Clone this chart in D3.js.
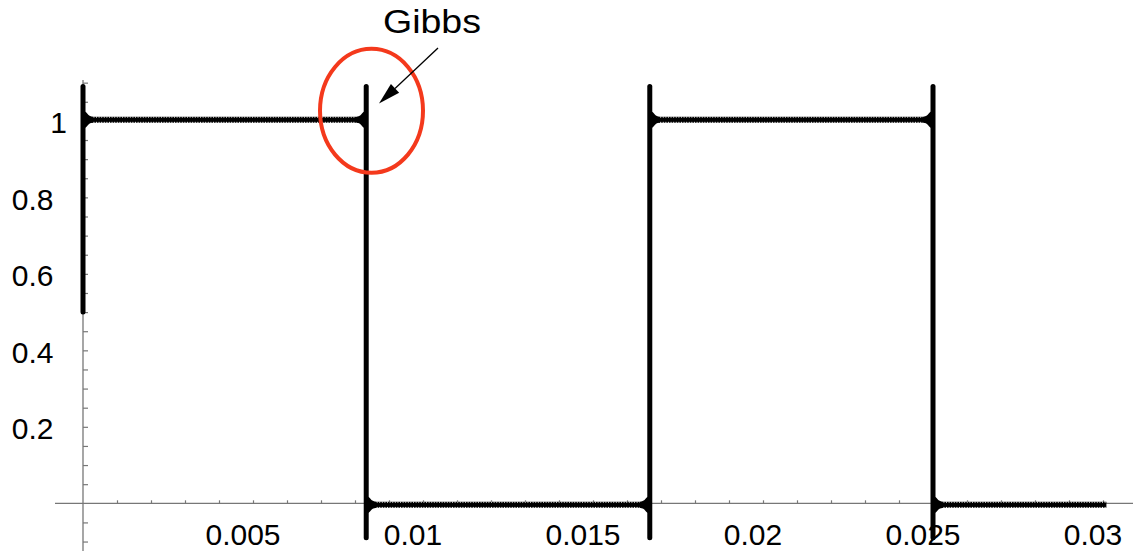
<!DOCTYPE html>
<html><head><meta charset="utf-8">
<script src="https://cdn.jsdelivr.net/npm/d3@7"></script>
<style>html,body{margin:0;padding:0;background:#fff;overflow:hidden}</style>
</head><body>
<svg id="chart" width="1133" height="551"></svg>
<script>
// ---------- data ----------
// vertical jumps of the plotted square wave (time in s)
const jumpTime  = [0, 0.00833, 0.01667, 0.025];
const jumpFrom  = [0.5, 1.09, -0.09, 1.09];
const jumpTo    = [1.09, -0.09, 1.09, -0.09];
// flat parts (plateaus) between the jumps
const plateauStart = [0, 0.00833, 0.01667, 0.025];
const plateauEnd   = [0.00833, 0.01667, 0.025, 0.0301];
const plateauLevel = [1.003, -0.004, 1.003, -0.004];
// Gibbs ripple envelope next to a jump: distance from the jump (s) and half height
const rippleDist = [0, 0.00008, 0.00018, 0.0003];
const rippleHalf = [0.024, 0.02, 0.011, 0.0075];
// axis ticks and labels
const xMinorTicks = [0.001,0.002,0.003,0.004,0.005,0.006,0.007,0.008,0.009,0.010,
                     0.011,0.012,0.013,0.014,0.015,0.016,0.017,0.018,0.019,0.020,
                     0.021,0.022,0.023,0.024,0.025,0.026,0.027,0.028,0.029,0.030];
const xLabelValues = [0.005, 0.01, 0.015, 0.02, 0.025, 0.03];
const xLabelText   = ["0.005", "0.01", "0.015", "0.02", "0.025", "0.03"];
const yMinorTicks = [-0.1,-0.05,0.05,0.1,0.15,0.2,0.25,0.3,0.35,0.4,0.45,0.5,0.55,
                     0.6,0.65,0.7,0.75,0.8,0.85,0.9,0.95,1.0,1.05,1.1];
const yLabelValues = [0.2, 0.4, 0.6, 0.8, 1];
const yLabelText   = ["0.2", "0.4", "0.6", "0.8", "1"];
const annotationText = "Gibbs";

// ---------- drawing ----------
const svg = d3.select("#chart");
const x = d3.scaleLinear().domain([0, 0.03]).range([83, 1103]);
const y = d3.scaleLinear().domain([0, 1]).range([503.3, 120.9]);
const axisColor = "#777";
const font = "'Liberation Sans', Arial, Helvetica, sans-serif";

// axes lines
svg.append("line").attr("x1", 55).attr("x2", 1133).attr("y1", y(0)).attr("y2", y(0))
  .attr("stroke", axisColor).attr("stroke-width", 1.3);
svg.append("line").attr("x1", x(0)).attr("x2", x(0)).attr("y1", 80).attr("y2", 551)
  .attr("stroke", axisColor).attr("stroke-width", 1.3);

// x axis (ticks pointing up)
const xAxis = d3.axisTop(x).tickValues(xMinorTicks).tickSize(3).tickFormat("");
const gx = svg.append("g").attr("transform", `translate(0,${y(0)})`).call(xAxis);
gx.select(".domain").remove();
gx.selectAll(".tick line").attr("stroke", axisColor).attr("stroke-width", 1.2);
svg.append("g").selectAll("text").data(xLabelValues).join("text")
  .attr("x", d => x(d) - 10).attr("y", y(0) + 41.7)
  .attr("text-anchor", "middle").attr("font-family", font).attr("font-size", 30)
  .attr("fill", "#000").text((d, i) => xLabelText[i]);

// y axis (ticks pointing right)
const yAxis = d3.axisRight(y).tickValues(yMinorTicks).tickSize(5).tickFormat("");
const gy = svg.append("g").attr("transform", `translate(${x(0)},0)`).call(yAxis);
gy.select(".domain").remove();
gy.selectAll(".tick line").attr("stroke", axisColor).attr("stroke-width", 1.2);
svg.append("g").selectAll("text").data(yLabelValues).join("text")
  .attr("x", (d, i) => yLabelText[i].includes(".") ? 53.5 : 67)
  .attr("y", d => y(d) + 12.5)
  .attr("text-anchor", "end").attr("font-family", font).attr("font-size", 30)
  .attr("fill", "#000").text((d, i) => yLabelText[i]);

// trace
const trace = svg.append("g");
const line = d3.line().x(d => x(d[0])).y(d => y(d[1]));
plateauStart.forEach((s, i) => {
  const p = line([[s, plateauLevel[i]], [plateauEnd[i], plateauLevel[i]]]);
  trace.append("path").attr("d", p)
    .attr("stroke", "#000").attr("stroke-width", 6).attr("fill", "none");
  // fine ripple texture along both edges of the band
  [-2.6, 2.6].forEach(off => {
    trace.append("path").attr("d", p).attr("transform", `translate(0,${off})`)
      .attr("stroke", "#fff").attr("stroke-width", 1).attr("stroke-dasharray", "1 1.6")
      .attr("fill", "none");
  });
});
// ripple flares next to the jumps
const area = d3.area().x(d => x(d.t)).y0(d => y(d.v - d.h)).y1(d => y(d.v + d.h)).curve(d3.curveMonotoneX);
plateauStart.forEach((s, i) => {
  const lv = plateauLevel[i];
  const right = rippleDist.map((dd, k) => ({t: s + dd, v: lv, h: rippleHalf[k]}));
  trace.append("path").attr("d", area(right)).attr("fill", "#000");
  if (jumpTime.includes(plateauEnd[i])) {
    const left = rippleDist.map((dd, k) => ({t: plateauEnd[i] - dd, v: lv, h: rippleHalf[k]})).reverse();
    trace.append("path").attr("d", area(left)).attr("fill", "#000");
  }
});
jumpTime.forEach((t, i) => {
  trace.append("path")
    .attr("d", line([[t, jumpFrom[i]], [t, jumpTo[i]]]))
    .attr("stroke", "#000").attr("stroke-width", 5).attr("stroke-linecap", "round").attr("fill", "none");
});

// annotation
svg.append("ellipse").attr("cx", 371.5).attr("cy", 110.8).attr("rx", 51.5).attr("ry", 62)
  .attr("fill", "none").attr("stroke", "#f4391c").attr("stroke-width", 4);
const aStart = [438, 48], aTip = [379, 103.5];
const dx = aTip[0] - aStart[0], dy = aTip[1] - aStart[1], L = Math.hypot(dx, dy);
const ux = dx / L, uy = dy / L, hl = 22, hw = 6;
const bx = aTip[0] - ux * hl, by = aTip[1] - uy * hl;
svg.append("line").attr("x1", aStart[0]).attr("y1", aStart[1]).attr("x2", bx).attr("y2", by)
  .attr("stroke", "#000").attr("stroke-width", 1.3);
svg.append("polygon")
  .attr("points", [[aTip[0], aTip[1]], [bx - uy * hw, by + ux * hw], [bx + uy * hw, by - ux * hw]].map(p => p.join(",")).join(" "))
  .attr("fill", "#000");
svg.append("text").attr("x", 383).attr("y", 33.3)
  .attr("font-family", font).attr("font-size", 32.5)
  .attr("textLength", 98).attr("lengthAdjust", "spacingAndGlyphs")
  .attr("fill", "#000").text(annotationText);
</script>
</body></html>
